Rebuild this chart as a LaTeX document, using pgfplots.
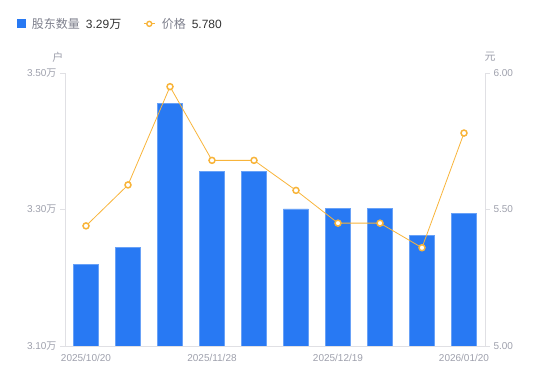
\documentclass[border=0pt]{standalone}
\usepackage{fontspec}
\setmainfont{Liberation Sans}
\newfontfamily\cjk{Noto Sans CJK SC}
\usepackage{pgfplots}
\pgfplotsset{compat=1.18}
\definecolor{barblue}{RGB}{40,121,243}
\definecolor{lineorange}{RGB}{248,180,58}
\definecolor{ticktext}{RGB}{158,160,172}
\definecolor{axisgray}{RGB}{224,224,228}
\definecolor{darktext}{RGB}{51,51,51}
\definecolor{legendgray}{RGB}{125,127,140}
\pgfplotsset{
  /pgf/number format/assume math mode=true,
  common/.style={
    at={(65pt,35pt)}, anchor=south west, scale only axis,
    width=420pt, height=273pt, xmin=-0.5, xmax=9.5,
    axis line style={-, axisgray, line width=0.8pt},
    tick align=outside, major tick length=5pt,
    ytick style={axisgray, line width=0.8pt},
    xtick style={draw=none},
    yticklabel style={ticktext, font=\fontsize{10}{12}\selectfont},
    xticklabel style={ticktext, font=\fontsize{10}{12}\selectfont},
    ylabel style={rotate=-90, anchor=center, ticktext, font=\fontsize{11}{13}\selectfont},
  }
}
\begin{document}
\begin{tikzpicture}[x=1pt,y=1pt]
\path[use as bounding box] (0,0) rectangle (550,381);
\begin{axis}[common,
  ymin=3.1, ymax=3.5, ytick={3.1,3.3,3.5},
  axis y line*=left, axis x line*=bottom,
  yticklabel={\pgfmathprintnumber[fixed,fixed zerofill,precision=2]{\tick}{\cjk 万}},
  xtick={0,3,6,9},
  xticklabels={2025/10/20,2025/11/28,2025/12/19,2026/01/20},
  ylabel={\cjk 户},
  ylabel style={at={(axis description cs:-0.017,1.059)}},
]
\addplot[ybar, bar width=25pt, fill=barblue, draw=barblue!70!white, line width=0.6pt] coordinates {
 (0,3.219) (1,3.244) (2,3.456) (3,3.356) (4,3.356)
 (5,3.301) (6,3.302) (7,3.302) (8,3.262) (9,3.294)
};
\end{axis}
\begin{axis}[common,
  ymin=5, ymax=6, ytick={5,5.5,6},
  axis y line*=right, axis x line=none,
  yticklabel={\pgfmathprintnumber[fixed,fixed zerofill,precision=2]{\tick}},
  ylabel={\cjk 元},
  ylabel style={at={(axis description cs:1.012,1.059)}},
  legend style={at={(axis description cs:-0.122,1.18)}, anchor=west, draw=none, fill=none,
    legend columns=2, /tikz/every even column/.append style={column sep=20pt},
    font=\fontsize{12}{14}\selectfont, text=legendgray},
  legend cell align=left,
]
\addlegendimage{legend image code/.code={\fill[barblue,draw=none] (0pt,-4.5pt) rectangle (9.5pt,4.5pt); \path[draw=none,fill=none] (0pt,0pt) -- (13pt,0pt);}}
\addlegendentry{{\cjk 股东数量}\hspace{6pt}\textcolor{darktext}{3.29{\cjk 万}}}
\addplot[lineorange, line width=0.8pt, mark=*, mark size=3pt,
  mark options={fill=white, draw=lineorange, line width=1.5pt},
  legend image code/.code={\draw[lineorange,line width=1pt] (0pt,0pt)--(11pt,0pt);
    \draw[lineorange,fill=white,line width=1.4pt] (5.5pt,0pt) circle (2.5pt); \path[draw=none,fill=none] (0pt,0pt)--(16pt,0pt);}] coordinates {
 (0,5.44) (1,5.59) (2,5.95) (3,5.68) (4,5.68)
 (5,5.57) (6,5.45) (7,5.45) (8,5.36) (9,5.78)
};
\addlegendentry{{\cjk 价格}\hspace{6pt}\textcolor{darktext}{5.780}}
\end{axis}
\end{tikzpicture}
\end{document}
